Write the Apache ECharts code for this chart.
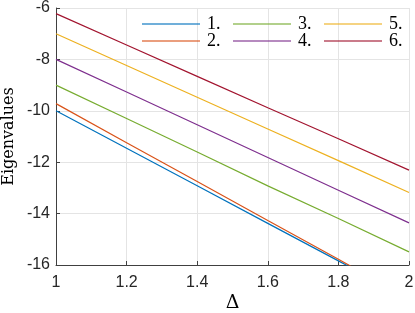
<!DOCTYPE html>
<html>
<head>
<meta charset="utf-8">
<script src="https://cdn.jsdelivr.net/npm/echarts@6/dist/echarts.min.js"></script>
<style>html,body{margin:0;padding:0;background:#fff;}#c{width:415px;height:313px;}</style>
</head>
<body>
<div id="c"></div>
<script>
const deltas = [1, 1.2, 1.4, 1.6, 1.8, 2];
const names = ['1.', '2.', '3.', '4.', '5.', '6.'];
const ev1 = [-10, -11.46, -12.92, -14.38, -15.84, -17.3];
const ev2 = [-9.72, -11.24, -12.75, -14.27, -15.78, -17.3];
const ev3 = [-9, -10.3, -11.6, -12.92, -14.19, -15.49];
const ev4 = [-8, -9.27, -10.54, -11.82, -13.09, -14.36];
const ev5 = [-7, -8.24, -9.47, -10.71, -11.94, -13.18];
const ev6 = [-6.22, -7.44, -8.66, -9.88, -11.09, -12.31];
const yTicks = [-16, -14, -12, -10, -8, -6];

const allEv = [ev1, ev2, ev3, ev4, ev5, ev6];
const colors = ['#0072BD', '#D95319', '#77AC30', '#7E2F8E', '#EDB120', '#A2142F'];
const legendPos = [[142, 15], [142, 32], [233, 15], [233, 32], [324, 15], [324, 32]];

const chart = echarts.init(document.getElementById('c'), null, {renderer: 'canvas'});
const axisColor = '#404040';
const gridColor = '#e4e4e4';
const tickFont = {color: '#262626', fontFamily: 'Liberation Sans', fontSize: 16};

chart.setOption({
  animation: false,
  backgroundColor: '#fff',
  grid: {left: 56, right: 6, top: 8, bottom: 48, containLabel: false, outerBoundsMode: 'none'},
  legend: names.map((n, i) => ({
    data: [n],
    left: legendPos[i][0],
    top: legendPos[i][1],
    padding: 0,
    icon: 'rect',
    itemWidth: 58,
    itemHeight: 1.5,
    itemGap: 0,
    itemStyle: {opacity: 0.75},
    textStyle: {fontFamily: 'Liberation Serif', fontSize: 18, color: '#000', lineHeight: 16, padding: [0, 0, 0, 2]}
  })),
  xAxis: {
    type: 'value', min: 1, max: 2, interval: 0.2,
    name: 'Δ', nameLocation: 'middle', nameGap: 29, nameMoveOverlap: false,
    nameTextStyle: {fontFamily: 'DejaVu Serif', fontSize: 19, color: '#000'},
    axisLine: {show: true, lineStyle: {color: axisColor, width: 1}},
    axisTick: {show: true, inside: true, length: 4, lineStyle: {color: axisColor}},
    axisLabel: Object.assign({margin: 10}, tickFont),
    splitLine: {show: true, lineStyle: {color: gridColor, width: 1}}
  },
  yAxis: {
    type: 'value', min: yTicks[0], max: yTicks[yTicks.length - 1], interval: 2,
    name: 'Eigenvalues', nameLocation: 'middle', nameGap: 39, nameMoveOverlap: false,
    nameTextStyle: {fontFamily: 'DejaVu Serif', fontSize: 16, color: '#000'},
    axisLine: {show: true, lineStyle: {color: axisColor, width: 1}},
    axisTick: {show: true, inside: true, length: 4, lineStyle: {color: axisColor}},
    axisLabel: Object.assign({margin: 6}, tickFont),
    splitLine: {show: true, lineStyle: {color: gridColor, width: 1}}
  },
  series: allEv.map((vals, i) => ({
    name: names[i],
    type: 'line',
    symbol: 'none',
    clip: true,
    color: colors[i],
    lineStyle: {width: 1.2, color: colors[i]},
    data: deltas.map((d, j) => [d, vals[j]])
  }))
});
</script>
</body>
</html>
